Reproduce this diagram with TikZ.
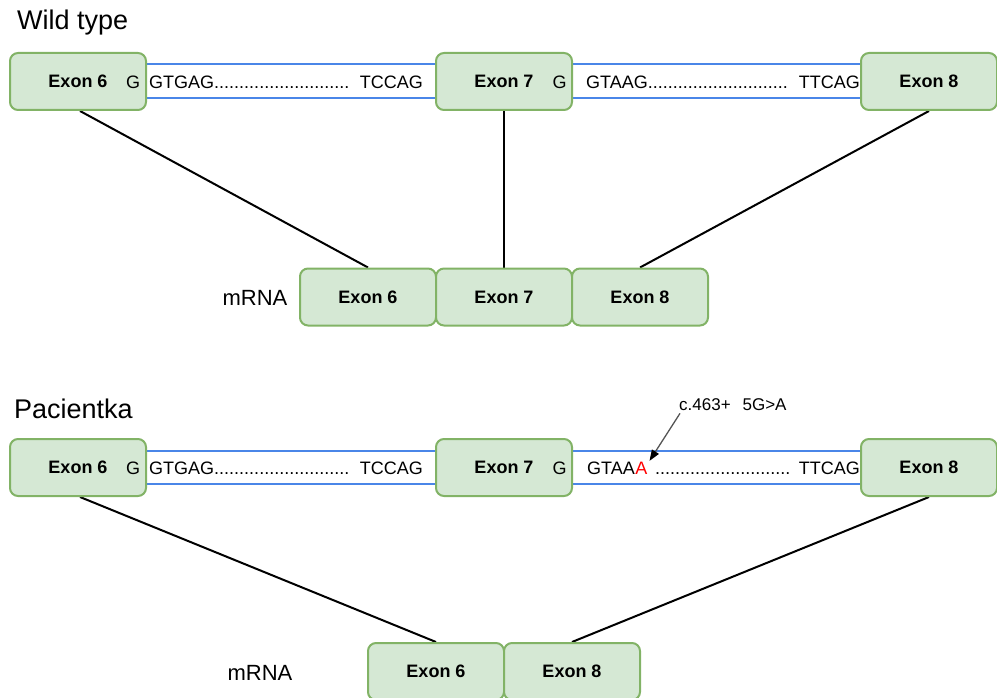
\documentclass[tikz,border=0pt]{standalone}
\usepackage{fontspec}
\setmainfont{Liberation Sans}
\usetikzlibrary{arrows.meta,backgrounds}
\definecolor{exfill}{HTML}{D5E8D4}
\definecolor{exline}{HTML}{82B366}
\definecolor{dnablue}{HTML}{4A86E8}
\definecolor{pointer}{HTML}{555555}

\begin{document}
\begin{tikzpicture}[x=1pt,y=-1pt,
  exon/.style={draw=exline, fill=exfill, line width=2pt, rounded corners=8pt,
    minimum width=136pt, minimum height=57pt, inner sep=0pt,
    font=\fontsize{18}{20}\selectfont\bfseries},
  seq/.style={inner sep=0pt, font=\fontsize{18}{20}\selectfont},
  title/.style={inner sep=0pt, anchor=base west, font=\fontsize{27}{31}\selectfont},
  rnalabel/.style={inner sep=0pt, anchor=base, font=\fontsize{22}{26}\selectfont},
  intron/.style={draw=dnablue, line width=2pt},
  splice/.style={draw=black, line width=2pt},
  mutarrow/.style={draw=pointer, line width=1.3pt, -{Triangle[length=11pt,width=8pt,color=black]}}]
\useasboundingbox (0,0) rectangle (997,698);

% ---------- wild type ----------
\node[title] (wt) at (17,30) {Wild type};

\node[exon] (e6a) at (78,81.5) {Exon 6};
\node[exon] (e7a) at (504,81.5) {Exon 7};
\node[exon] (e8a) at (929,81.5) {Exon 8};

\node[seq, anchor=base] (g6a) at (133,88.5) {G};
\node[seq, anchor=base west] (s1a) at (149,88.5) {GTGAG...........................};
\node[seq, anchor=base east] (t1a) at (423,88.5) {TCCAG};
\node[seq, anchor=base] (g7a) at (559.5,88.5) {G};
\node[seq, anchor=base west] (s2a) at (586,88.5) {GTAAG............................};
\node[seq, anchor=base east] (t2a) at (860,88.5) {TTCAG};

\node[rnalabel] (rnaa) at (255,305) {mRNA};
\node[exon] (m6a) at (368,297) {Exon 6};
\node[exon] (m7a) at (504,297) {Exon 7};
\node[exon] (m8a) at (640,297) {Exon 8};

\begin{scope}[on background layer]
  \draw[intron] ([yshift=17.5pt]e6a.east) -- ([yshift=17.5pt]e7a.west);
  \draw[intron] ([yshift=-16.5pt]e6a.east) -- ([yshift=-16.5pt]e7a.west);
  \draw[intron] ([yshift=17.5pt]e7a.east) -- ([yshift=17.5pt]e8a.west);
  \draw[intron] ([yshift=-16.5pt]e7a.east) -- ([yshift=-16.5pt]e8a.west);
  \draw[splice] ([xshift=2pt]e6a.south) -- (m6a.north);
  \draw[splice] (e7a.south) -- (m7a.north);
  \draw[splice] (e8a.south) -- (m8a.north);
\end{scope}

% ---------- patient ----------
\node[title] (pt) at (14,418) {Pacientka};

\node[exon] (e6b) at (78,467.5) {Exon 6};
\node[exon] (e7b) at (504,467.5) {Exon 7};
\node[exon] (e8b) at (929,467.5) {Exon 8};

\node[seq, anchor=base] (g6b) at (133,474.5) {G};
\node[seq, anchor=base west] (s1b) at (149,474.5) {GTGAG...........................};
\node[seq, anchor=base east] (t1b) at (423,474.5) {TCCAG};
\node[seq, anchor=base] (g7b) at (559.5,474.5) {G};
\node[seq, anchor=base west] (s2b) at (587,474.5) {GTAA};
\node[seq, anchor=base west, text=red] (mutA) at (s2b.base east) {A};
\node[seq, anchor=base west] (d2b) at (655,474.5) {...........................};
\node[seq, anchor=base east] (t2b) at (860,474.5) {TTCAG};

\node[inner sep=0pt, anchor=base west, font=\fontsize{17}{20}\selectfont] (mut) at (679,410)
  {c.463+\hspace{0.7em}5G>A};
\draw[mutarrow] ([xshift=1pt,yshift=-3pt]mut.south west) -- ([xshift=2pt,yshift=1pt]mutA.north east);

\node[rnalabel] (rnab) at (260,680.5) {mRNA};
\node[exon] (m6b) at (436,671.5) {Exon 6};
\node[exon] (m8b) at (572,671.5) {Exon 8};

\begin{scope}[on background layer]
  \draw[intron] ([yshift=16.5pt]e6b.east) -- ([yshift=16.5pt]e7b.west);
  \draw[intron] ([yshift=-16.5pt]e6b.east) -- ([yshift=-16.5pt]e7b.west);
  \draw[intron] ([yshift=16.5pt]e7b.east) -- ([yshift=16.5pt]e8b.west);
  \draw[intron] ([yshift=-16.5pt]e7b.east) -- ([yshift=-16.5pt]e8b.west);
  \draw[splice] ([xshift=2pt]e6b.south) -- (m6b.north);
  \draw[splice] (e8b.south) -- (m8b.north);
\end{scope}
\end{tikzpicture}
\end{document}
